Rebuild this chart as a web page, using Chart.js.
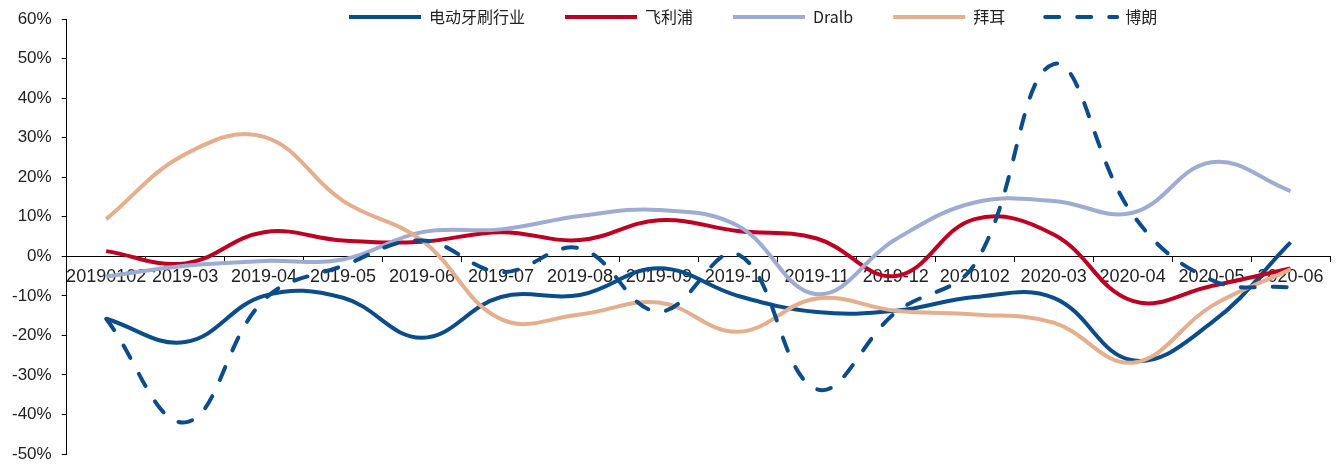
<!DOCTYPE html>
<html>
<head>
<meta charset="utf-8">
<script src="https://cdn.jsdelivr.net/npm/chart.js@4/dist/chart.umd.min.js"></script>
<style>
  html, body { margin: 0; padding: 0; background: #fff; }
</style>
</head>
<body>
<canvas id="brushChart" width="1341" height="464"></canvas>
<script>
// month labels as printed on the source chart
var months = ["20190102", "2019-03", "2019-04", "2019-05", "2019-06", "2019-07", "2019-08", "2019-09",
              "2019-10", "2019-11", "2019-12", "2020102", "2020-03", "2020-04", "2020-05", "2020-06"];

// growth rates, %
var industry = [-15.8, -21.7, -10, -10.5, -20.6, -10.3, -9.8, -3, -10, -14.1, -13.8, -10.3, -10.5, -26.3, -16.8, 3.5];
var philips  = [1.3, -1.8, 6.1, 4, 3.7, 6.1, 4.1, 9.1, 6.4, 4.5, -5, 9.4, 5.5, -11.3, -7.5, -3.1];
var oralb    = [-5.1, -2.4, -1.2, -0.8, 6.1, 6.8, 10.2, 11.7, 7.7, -9.6, 4.3, 13.6, 14, 11, 23.8, 16.5];
var bayer    = [9.4, 25.8, 30.2, 14, 4, -15.9, -14.7, -11.7, -19.1, -10.7, -13.8, -14.7, -16.8, -26.9, -12.6, -3.3];
var braun    = [-15.8, -42, -11, -2.4, 4, -4, 2, -14, 0.5, -33.6, -14.2, -2, 48.6, 10.6, -6, -7.9];

var yTicks = { min: -50, max: 60, step: 10 };

var axisFont = "'Liberation Sans', Arial, sans-serif";

// the legend sits over the top of the plot, as in the source
var legendShift = {
    id: "legendShift",
    afterLayout: function (chart) {
        var lg = chart.legend;
        lg.left = 309;
        lg.right = lg.left + 1200;
        lg.top = -31;
        lg.bottom = 40;
    }
};

function line(label, data, color, order, dash) {
    return {
        label: label,
        data: data,
        borderColor: color,
        backgroundColor: color,
        borderWidth: 4,
        borderDash: dash || [],
        borderCapStyle: dash ? "round" : "butt",
        pointRadius: 0,
        pointHoverRadius: 0,
        tension: 0.4,
        fill: false,
        order: order
    };
}

new Chart(document.getElementById("brushChart"), {
    type: "line",
    data: {
        labels: months,
        datasets: [
            line("电动牙刷行业", industry, "#0b4c8a", 5),
            line("飞利浦", philips, "#c00023", 4),
            line("Dralb", oralb, "#9eabd2", 3),
            line("拜耳", bayer, "#e5ae8c", 2),
            line("博朗", braun, "#0b4c8a", 1, [14, 18])
        ]
    },
    options: {
        responsive: false,
        animation: false,
        devicePixelRatio: 1,
        layout: { padding: { top: 18, left: 2, right: 11, bottom: 0 } },
        plugins: {
            tooltip: { enabled: false },
            legend: {
                position: "top",
                align: "start",
                maxHeight: 1,
                labels: {
                    usePointStyle: true,
                    pointStyle: "line",
                    pointStyleWidth: 72,
                    padding: 40,
                    color: "#222",
                    font: { family: "'Noto Sans CJK SC', sans-serif", size: 16 },
                    sort: function (a, b) { return a.datasetIndex - b.datasetIndex; },
                    generateLabels: function (chart) {
                        var items = Chart.defaults.plugins.legend.labels.generateLabels(chart);
                        items.forEach(function (it) {
                            var ds = chart.data.datasets[it.datasetIndex];
                            it.lineDash = ds.borderDash;
                            it.lineCap = ds.borderCapStyle;
                            it.lineWidth = ds.borderWidth;
                        });
                        return items;
                    }
                }
            }
        },
        scales: {
            x: {
                type: "category",
                position: { y: 0 },
                offset: true,
                grid: { offset: true, drawOnChartArea: false, drawTicks: true, tickLength: 5, color: "#000" },
                border: { color: "#000", width: 1 },
                ticks: {
                    autoSkip: false,
                    maxRotation: 0,
                    color: "#222",
                    padding: 5,
                    font: { family: axisFont, size: 18 }
                }
            },
            y: {
                min: yTicks.min,
                max: yTicks.max,
                grid: { drawOnChartArea: false, drawTicks: true, tickLength: 5, color: "#000" },
                border: { color: "#000", width: 1 },
                ticks: {
                    stepSize: yTicks.step,
                    padding: 10,
                    color: "#222",
                    font: { family: axisFont, size: 17 },
                    callback: function (v) { return v + "%"; }
                },
                // keep the label padding horizontal only
                afterFit: function (scale) {
                    scale.paddingTop = 0;
                    scale.paddingBottom = 10;
                }
            }
        }
    },
    plugins: [legendShift]
});
</script>
</body>
</html>
